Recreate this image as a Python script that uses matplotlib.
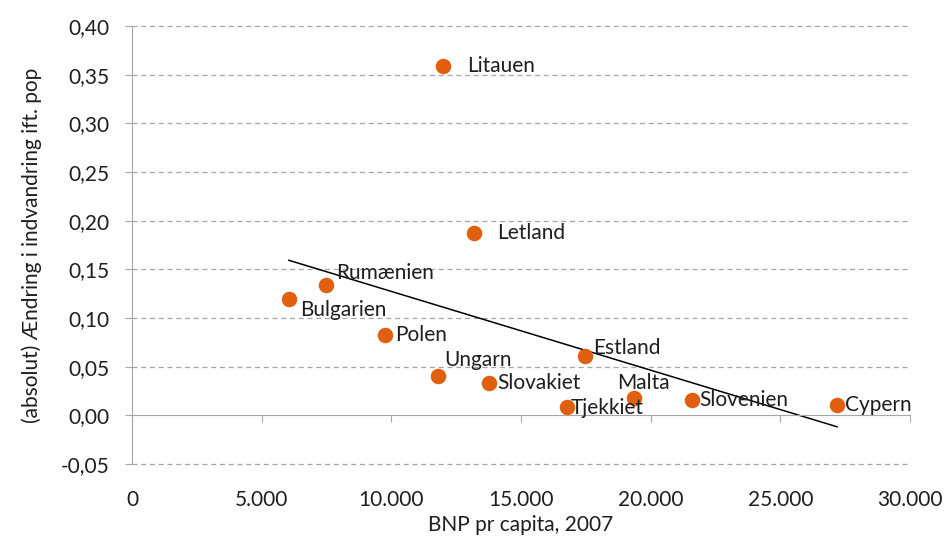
import numpy as np
import matplotlib.pyplot as plt
import matplotlib.ticker as ticker

plt.rcParams['font.family'] = ['Lato', 'DejaVu Sans']

# data
countries = ['Litauen', 'Letland', 'Rumænien', 'Bulgarien', 'Polen', 'Ungarn',
             'Slovakiet', 'Estland', 'Tjekkiet', 'Malta', 'Slovenien', 'Cypern']
gdp = [12000, 13200, 7480, 6050, 9760, 11800, 13770, 17470, 16780, 19360, 21600, 27190]
change = [0.359, 0.187, 0.134, 0.120, 0.083, 0.040, 0.033, 0.061, 0.009, 0.018, 0.016, 0.011]
x_ticks = [0, 5000, 10000, 15000, 20000, 25000, 30000]
y_ticks = [-0.05, 0.0, 0.05, 0.10, 0.15, 0.20, 0.25, 0.30, 0.35, 0.40]

# label offsets (pixels) relative to each point
offsets = {'Litauen': (24, 0), 'Letland': (23, 0), 'Rumænien': (10, 12),
           'Bulgarien': (11, -11), 'Polen': (10, 0), 'Ungarn': (6, 16),
           'Slovakiet': (8, 0), 'Estland': (8, 8), 'Tjekkiet': (4, -1),
           'Malta': (-17, 15), 'Slovenien': (7, 0), 'Cypern': (8, 0)}

grey = '#A6A6A6'
orange = '#E0600F'
txt = '#1E1E1E'
fs = 15

fig = plt.figure(figsize=(9.46, 5.36), dpi=100)
ax = fig.add_axes([0.1395, 0.1343, 0.8225, 0.8172])

ax.set_xlim(0, 30000)
ax.set_ylim(-0.05, 0.40)
ax.set_xticks(x_ticks)
ax.set_yticks(y_ticks)

# dashed horizontal gridlines (the zero line is the solid axis)
for yv in y_ticks:
    if yv != 0:
        ax.axhline(yv, color=grey, lw=0.9, ls=(0, (4, 3)), zorder=0, clip_on=False)

ax.spines['top'].set_visible(False)
ax.spines['right'].set_visible(False)
ax.spines['left'].set_color(grey)
ax.spines['bottom'].set_color(grey)
ax.spines['bottom'].set_position(('data', 0))
ax.tick_params(axis='y', colors=grey, length=5, labelsize=fs, labelcolor=txt, pad=11)
ax.tick_params(axis='x', colors=grey, length=5, labelbottom=False)
ax.yaxis.set_major_formatter(ticker.FuncFormatter(lambda v, p: f'{v:.2f}'.replace('.', ',').replace('-0,00', '0,00')))

# x tick labels at the bottom of the plot area
sec = ax.secondary_xaxis(0)
sec.spines['bottom'].set_visible(False)
sec.set_xticks(x_ticks)
sec.xaxis.set_major_formatter(ticker.FuncFormatter(lambda v, p: f'{int(v):,}'.replace(',', '.')))
sec.tick_params(length=0, labelsize=fs, labelcolor=txt, pad=19)
sec.set_xlabel('BNP pr capita, 2007', fontsize=fs, color=txt, labelpad=3)

# points
ax.scatter(gdp, change, s=125, color=orange, zorder=3, linewidths=0)

# linear trend line
coef = np.polyfit(gdp, change, 1)
xs = np.array([min(gdp), max(gdp)])
ax.plot(xs, np.polyval(coef, xs), color='black', lw=1.1, zorder=2)

for name, x, y in zip(countries, gdp, change):
    dx, dy = offsets[name]
    ax.annotate(name, (x, y), xytext=(dx, dy), textcoords='offset pixels',
                ha='left', va='center', fontsize=fs, color=txt, zorder=4)

ax.set_ylabel('(absolut) Ændring i indvandring ift. pop', fontsize=fs, color=txt, labelpad=14)

fig.savefig('out.png', dpi=100)
